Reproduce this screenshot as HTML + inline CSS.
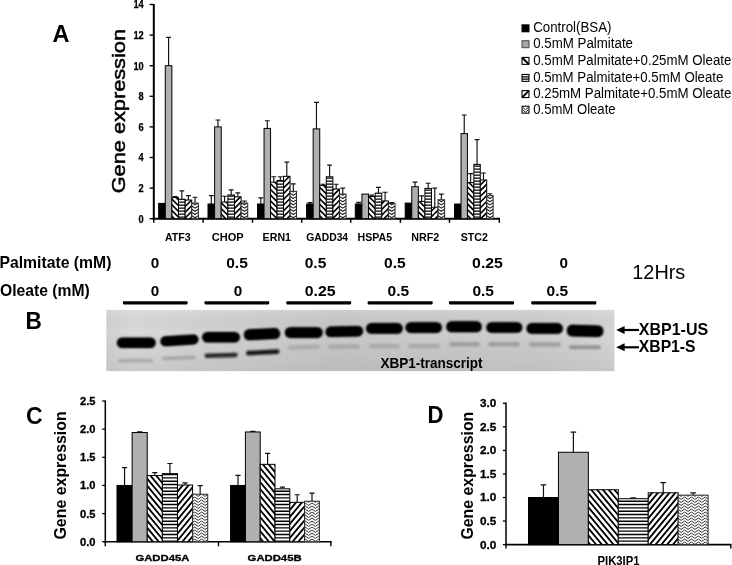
<!DOCTYPE html>
<html><head><meta charset="utf-8"><title>Figure</title>
<style>
html,body{margin:0;padding:0;background:#fff;}
body{width:732px;height:565px;overflow:hidden;font-family:"Liberation Sans",sans-serif;}
svg{display:block;filter:grayscale(1);}
text{font-family:"Liberation Sans",sans-serif;fill:#000;}
</style></head><body>
<svg width="732" height="565" viewBox="0 0 732 565">
<defs>
<!-- panel A patterns (small) -->
<pattern id="h1a" patternUnits="userSpaceOnUse" width="5.2" height="5.2" patternTransform="translate(1.2,0.6)"><rect width="5.2" height="5.2" fill="#fff"/><path d="M-1.3 -1.3L6.5 6.5M-1.3 3.9L1.3 6.5M3.9 -1.3L6.5 1.3" stroke="#000" stroke-width="1.5"/></pattern>
<pattern id="h2a" patternUnits="userSpaceOnUse" width="5.2" height="5.2" patternTransform="translate(0.4,0.6)"><rect width="5.2" height="5.2" fill="#fff"/><path d="M-1.3 6.5L6.5 -1.3M-1.3 1.3L1.3 -1.3M3.9 6.5L6.5 3.9" stroke="#000" stroke-width="1.5"/></pattern>
<pattern id="hza" patternUnits="userSpaceOnUse" width="4" height="2.6" patternTransform="translate(0,1.6)"><rect width="4" height="2.6" fill="#fff"/><rect width="4" height="1.35" fill="#000"/></pattern>
<!-- panel C/D patterns -->
<pattern id="h1c" patternUnits="userSpaceOnUse" width="5.8" height="7" patternTransform="translate(2.9,3.6)"><rect width="5.8" height="7" fill="#fff"/><path d="M-5.8 -7L11.6 14M-5.8 0L5.8 14M0 -7L11.6 7" stroke="#000" stroke-width="2.0"/></pattern>
<pattern id="h2c" patternUnits="userSpaceOnUse" width="5.8" height="7" patternTransform="translate(2.9,3.6)"><rect width="5.8" height="7" fill="#fff"/><path d="M-5.8 14L11.6 -7M-5.8 7L5.8 -7M0 14L11.6 0" stroke="#000" stroke-width="2.0"/></pattern>
<pattern id="hzc" patternUnits="userSpaceOnUse" width="4" height="3.33" patternTransform="translate(0,1.0)"><rect width="4" height="3.33" fill="#fff"/><rect width="4" height="1.4" fill="#000"/></pattern>
<filter id="blurA" x="-5%" y="-5%" width="110%" height="110%"><feGaussianBlur stdDeviation="0.35"/></filter>
<filter id="bandblur" x="-20%" y="-50%" width="140%" height="200%"><feGaussianBlur stdDeviation="1.3"/></filter>
<filter id="faintblur" x="-20%" y="-100%" width="140%" height="300%"><feGaussianBlur stdDeviation="1.1"/></filter>
<linearGradient id="gelbg" x1="0" x2="1" y1="0" y2="0">
<stop offset="0" stop-color="#d2d2d2"/><stop offset="0.05" stop-color="#dadada"/><stop offset="0.22" stop-color="#d2d2d2"/><stop offset="0.45" stop-color="#c9c9c9"/><stop offset="0.85" stop-color="#cecece"/><stop offset="1" stop-color="#d6d6d6"/>
</linearGradient>
<linearGradient id="gelv" x1="0" x2="0" y1="0" y2="1"><stop offset="0" stop-color="#fff" stop-opacity="0.12"/><stop offset="0.35" stop-color="#000" stop-opacity="0"/><stop offset="1" stop-color="#000" stop-opacity="0.07"/></linearGradient>
<clipPath id="gelclip"><rect x="106.3" y="309.9" width="508.1" height="61.1"/></clipPath>
</defs>
<rect width="732" height="565" fill="#fff"/>

<g id="panelA">
<text transform="translate(52.6,41.7) scale(0.967,1)" font-size="24.3" font-weight="bold">A</text>
<text transform="translate(124.6,193.3) rotate(-90)" font-size="18.5" textLength="164.3" lengthAdjust="spacingAndGlyphs" stroke="#000" stroke-width="0.5">Gene expression</text>
<path d="M153.8 4.0V218.7" stroke="#000" stroke-width="2.0" fill="none"/>
<path d="M152.8 218.7H500.0" stroke="#000" stroke-width="2.0" fill="none"/>
<path d="M149.6 218.70H153.8" stroke="#000" stroke-width="1.4"/>
<text x="138.55" y="222.60" font-size="10.6" font-weight="bold" text-anchor="start" textLength="5.15" lengthAdjust="spacingAndGlyphs" stroke="#000" stroke-width="0.25">0</text>
<path d="M149.6 188.10H153.8" stroke="#000" stroke-width="1.4"/>
<text x="138.55" y="192.00" font-size="10.6" font-weight="bold" text-anchor="start" textLength="5.15" lengthAdjust="spacingAndGlyphs" stroke="#000" stroke-width="0.25">2</text>
<path d="M149.6 157.50H153.8" stroke="#000" stroke-width="1.4"/>
<text x="138.55" y="161.40" font-size="10.6" font-weight="bold" text-anchor="start" textLength="5.15" lengthAdjust="spacingAndGlyphs" stroke="#000" stroke-width="0.25">4</text>
<path d="M149.6 126.90H153.8" stroke="#000" stroke-width="1.4"/>
<text x="138.55" y="130.80" font-size="10.6" font-weight="bold" text-anchor="start" textLength="5.15" lengthAdjust="spacingAndGlyphs" stroke="#000" stroke-width="0.25">6</text>
<path d="M149.6 96.30H153.8" stroke="#000" stroke-width="1.4"/>
<text x="138.55" y="100.20" font-size="10.6" font-weight="bold" text-anchor="start" textLength="5.15" lengthAdjust="spacingAndGlyphs" stroke="#000" stroke-width="0.25">8</text>
<path d="M149.6 65.70H153.8" stroke="#000" stroke-width="1.4"/>
<text x="133.40" y="69.60" font-size="10.6" font-weight="bold" text-anchor="start" textLength="10.30" lengthAdjust="spacingAndGlyphs" stroke="#000" stroke-width="0.25">10</text>
<path d="M149.6 35.10H153.8" stroke="#000" stroke-width="1.4"/>
<text x="133.40" y="39.00" font-size="10.6" font-weight="bold" text-anchor="start" textLength="10.30" lengthAdjust="spacingAndGlyphs" stroke="#000" stroke-width="0.25">12</text>
<path d="M149.6 4.50H153.8" stroke="#000" stroke-width="1.4"/>
<text x="133.40" y="8.40" font-size="10.6" font-weight="bold" text-anchor="start" textLength="10.30" lengthAdjust="spacingAndGlyphs" stroke="#000" stroke-width="0.25">14</text>
<path d="M153.80 218.7V222.8" stroke="#000" stroke-width="1.5"/>
<path d="M203.10 218.7V222.8" stroke="#000" stroke-width="1.5"/>
<path d="M252.50 218.7V222.8" stroke="#000" stroke-width="1.5"/>
<path d="M301.70 218.7V222.8" stroke="#000" stroke-width="1.5"/>
<path d="M350.70 218.7V222.8" stroke="#000" stroke-width="1.5"/>
<path d="M400.40 218.7V222.8" stroke="#000" stroke-width="1.5"/>
<path d="M449.50 218.7V222.8" stroke="#000" stroke-width="1.5"/>
<path d="M499.30 218.7V222.8" stroke="#000" stroke-width="1.5"/>
<path d="M168.58 65.70V37.39M166.18 37.39H170.98" stroke="#111" stroke-width="1.15" fill="none"/>
<path d="M175.20 197.59V196.51M172.80 196.51H177.60" stroke="#111" stroke-width="1.15" fill="none"/>
<path d="M181.82 199.27V190.85M179.42 190.85H184.22" stroke="#111" stroke-width="1.15" fill="none"/>
<path d="M188.44 200.03V195.60M186.04 195.60H190.84" stroke="#111" stroke-width="1.15" fill="none"/>
<path d="M195.06 203.09V197.28M192.66 197.28H197.46" stroke="#111" stroke-width="1.15" fill="none"/>
<rect x="158.65" y="203.40" width="6.62" height="15.30" fill="#000" stroke="#000" stroke-width="1.0"/>
<rect x="165.27" y="65.70" width="6.62" height="153.00" fill="#b0b0b0" stroke="#000" stroke-width="1.0"/>
<clipPath id="k1"><rect x="171.89" y="197.59" width="6.62" height="21.11"/></clipPath>
<rect x="171.89" y="197.59" width="6.62" height="21.11" fill="#fff"/>
<path d="M170.89 180.99L179.51 189.61M170.89 186.69L179.51 195.31M170.89 192.39L179.51 201.01M170.89 198.09L179.51 206.71M170.89 203.79L179.51 212.41M170.89 209.49L179.51 218.11M170.89 215.19L179.51 223.81" stroke="#000" stroke-width="1.6" fill="none" clip-path="url(#k1)"/>
<rect x="171.89" y="197.59" width="6.62" height="21.11" fill="none" stroke="#000" stroke-width="1.0"/>
<clipPath id="k2"><rect x="178.51" y="199.27" width="6.62" height="19.43"/></clipPath>
<rect x="178.51" y="199.27" width="6.62" height="19.43" fill="#fff"/>
<path d="M178.51 196.18H185.13M178.51 199.18H185.13M178.51 202.18H185.13M178.51 205.18H185.13M178.51 208.18H185.13M178.51 211.18H185.13M178.51 214.18H185.13M178.51 217.18H185.13M178.51 220.18H185.13" stroke="#000" stroke-width="1.35" fill="none" clip-path="url(#k2)"/>
<rect x="178.51" y="199.27" width="6.62" height="19.43" fill="none" stroke="#000" stroke-width="1.0"/>
<clipPath id="k3"><rect x="185.13" y="200.03" width="6.62" height="18.67"/></clipPath>
<rect x="185.13" y="200.03" width="6.62" height="18.67" fill="#fff"/>
<path d="M184.13 190.47L192.75 181.85M184.13 196.17L192.75 187.55M184.13 201.87L192.75 193.25M184.13 207.57L192.75 198.95M184.13 213.27L192.75 204.65M184.13 218.97L192.75 210.35M184.13 224.67L192.75 216.05" stroke="#000" stroke-width="1.6" fill="none" clip-path="url(#k3)"/>
<rect x="185.13" y="200.03" width="6.62" height="18.67" fill="none" stroke="#000" stroke-width="1.0"/>
<clipPath id="k4"><rect x="191.75" y="203.09" width="6.62" height="15.61"/></clipPath>
<rect x="191.75" y="203.09" width="6.62" height="15.61" fill="#fff"/>
<path d="M181.82 198.50L185.13 196.40L188.44 198.50L191.75 196.40L195.06 198.50L198.37 196.40L201.68 198.50L204.99 196.40M181.82 201.70L185.13 199.60L188.44 201.70L191.75 199.60L195.06 201.70L198.37 199.60L201.68 201.70L204.99 199.60M181.82 204.90L185.13 202.80L188.44 204.90L191.75 202.80L195.06 204.90L198.37 202.80L201.68 204.90L204.99 202.80M181.82 208.10L185.13 206.00L188.44 208.10L191.75 206.00L195.06 208.10L198.37 206.00L201.68 208.10L204.99 206.00M181.82 211.30L185.13 209.20L188.44 211.30L191.75 209.20L195.06 211.30L198.37 209.20L201.68 211.30L204.99 209.20M181.82 214.50L185.13 212.40L188.44 214.50L191.75 212.40L195.06 214.50L198.37 212.40L201.68 214.50L204.99 212.40M181.82 217.70L185.13 215.60L188.44 217.70L191.75 215.60L195.06 217.70L198.37 215.60L201.68 217.70L204.99 215.60" stroke="#1a1a1a" stroke-width="1.1" fill="none" stroke-linejoin="round" clip-path="url(#k4)"/>
<rect x="191.75" y="203.09" width="6.62" height="15.61" fill="none" stroke="#2a2a2a" stroke-width="1.0"/>
<path d="M211.31 204.01V195.60M208.91 195.60H213.71" stroke="#111" stroke-width="1.15" fill="none"/>
<path d="M217.93 126.90V120.01M215.53 120.01H220.33" stroke="#111" stroke-width="1.15" fill="none"/>
<path d="M224.55 202.02V196.21M222.15 196.21H226.95" stroke="#111" stroke-width="1.15" fill="none"/>
<path d="M231.17 194.98V189.94M228.77 189.94H233.57" stroke="#111" stroke-width="1.15" fill="none"/>
<path d="M237.79 196.82V192.84M235.39 192.84H240.19" stroke="#111" stroke-width="1.15" fill="none"/>
<path d="M244.41 203.09V200.95M242.01 200.95H246.81" stroke="#111" stroke-width="1.15" fill="none"/>
<rect x="208.00" y="204.01" width="6.62" height="14.69" fill="#000" stroke="#000" stroke-width="1.0"/>
<rect x="214.62" y="126.90" width="6.62" height="91.80" fill="#b0b0b0" stroke="#000" stroke-width="1.0"/>
<clipPath id="k5"><rect x="221.24" y="202.02" width="6.62" height="16.68"/></clipPath>
<rect x="221.24" y="202.02" width="6.62" height="16.68" fill="#fff"/>
<path d="M220.24 184.74L228.86 193.36M220.24 190.44L228.86 199.06M220.24 196.14L228.86 204.76M220.24 201.84L228.86 210.46M220.24 207.54L228.86 216.16M220.24 213.24L228.86 221.86M220.24 218.94L228.86 227.56" stroke="#000" stroke-width="1.6" fill="none" clip-path="url(#k5)"/>
<rect x="221.24" y="202.02" width="6.62" height="16.68" fill="none" stroke="#000" stroke-width="1.0"/>
<clipPath id="k6"><rect x="227.86" y="194.98" width="6.62" height="23.72"/></clipPath>
<rect x="227.86" y="194.98" width="6.62" height="23.72" fill="#fff"/>
<path d="M227.86 190.18H234.48M227.86 193.18H234.48M227.86 196.18H234.48M227.86 199.18H234.48M227.86 202.18H234.48M227.86 205.18H234.48M227.86 208.18H234.48M227.86 211.18H234.48M227.86 214.18H234.48M227.86 217.18H234.48M227.86 220.18H234.48" stroke="#000" stroke-width="1.35" fill="none" clip-path="url(#k6)"/>
<rect x="227.86" y="194.98" width="6.62" height="23.72" fill="none" stroke="#000" stroke-width="1.0"/>
<clipPath id="k7"><rect x="234.48" y="196.82" width="6.62" height="21.88"/></clipPath>
<rect x="234.48" y="196.82" width="6.62" height="21.88" fill="#fff"/>
<path d="M233.48 186.72L242.10 178.10M233.48 192.42L242.10 183.80M233.48 198.12L242.10 189.50M233.48 203.82L242.10 195.20M233.48 209.52L242.10 200.90M233.48 215.22L242.10 206.60M233.48 220.92L242.10 212.30M233.48 226.62L242.10 218.00" stroke="#000" stroke-width="1.6" fill="none" clip-path="url(#k7)"/>
<rect x="234.48" y="196.82" width="6.62" height="21.88" fill="none" stroke="#000" stroke-width="1.0"/>
<clipPath id="k8"><rect x="241.10" y="203.09" width="6.62" height="15.61"/></clipPath>
<rect x="241.10" y="203.09" width="6.62" height="15.61" fill="#fff"/>
<path d="M231.17 198.50L234.48 196.40L237.79 198.50L241.10 196.40L244.41 198.50L247.72 196.40L251.03 198.50L254.34 196.40M231.17 201.70L234.48 199.60L237.79 201.70L241.10 199.60L244.41 201.70L247.72 199.60L251.03 201.70L254.34 199.60M231.17 204.90L234.48 202.80L237.79 204.90L241.10 202.80L244.41 204.90L247.72 202.80L251.03 204.90L254.34 202.80M231.17 208.10L234.48 206.00L237.79 208.10L241.10 206.00L244.41 208.10L247.72 206.00L251.03 208.10L254.34 206.00M231.17 211.30L234.48 209.20L237.79 211.30L241.10 209.20L244.41 211.30L247.72 209.20L251.03 211.30L254.34 209.20M231.17 214.50L234.48 212.40L237.79 214.50L241.10 212.40L244.41 214.50L247.72 212.40L251.03 214.50L254.34 212.40M231.17 217.70L234.48 215.60L237.79 217.70L241.10 215.60L244.41 217.70L247.72 215.60L251.03 217.70L254.34 215.60" stroke="#1a1a1a" stroke-width="1.1" fill="none" stroke-linejoin="round" clip-path="url(#k8)"/>
<rect x="241.10" y="203.09" width="6.62" height="15.61" fill="none" stroke="#2a2a2a" stroke-width="1.0"/>
<path d="M260.80 204.01V197.89M258.40 197.89H263.20" stroke="#111" stroke-width="1.15" fill="none"/>
<path d="M267.30 128.43V120.78M264.90 120.78H269.70" stroke="#111" stroke-width="1.15" fill="none"/>
<path d="M273.80 182.13V176.78M271.40 176.78H276.20" stroke="#111" stroke-width="1.15" fill="none"/>
<path d="M280.30 180.45V176.78M277.90 176.78H282.70" stroke="#111" stroke-width="1.15" fill="none"/>
<path d="M286.80 176.32V162.09M284.40 162.09H289.20" stroke="#111" stroke-width="1.15" fill="none"/>
<path d="M293.30 191.31V183.82M290.90 183.82H295.70" stroke="#111" stroke-width="1.15" fill="none"/>
<rect x="257.55" y="204.01" width="6.50" height="14.69" fill="#000" stroke="#000" stroke-width="1.0"/>
<rect x="264.05" y="128.43" width="6.50" height="90.27" fill="#b0b0b0" stroke="#000" stroke-width="1.0"/>
<clipPath id="k9"><rect x="270.55" y="182.13" width="6.50" height="36.57"/></clipPath>
<rect x="270.55" y="182.13" width="6.50" height="36.57" fill="#fff"/>
<path d="M269.55 165.65L278.05 174.15M269.55 171.35L278.05 179.85M269.55 177.05L278.05 185.55M269.55 182.75L278.05 191.25M269.55 188.45L278.05 196.95M269.55 194.15L278.05 202.65M269.55 199.85L278.05 208.35M269.55 205.55L278.05 214.05M269.55 211.25L278.05 219.75M269.55 216.95L278.05 225.45" stroke="#000" stroke-width="1.6" fill="none" clip-path="url(#k9)"/>
<rect x="270.55" y="182.13" width="6.50" height="36.57" fill="none" stroke="#000" stroke-width="1.0"/>
<clipPath id="k10"><rect x="277.05" y="180.45" width="6.50" height="38.25"/></clipPath>
<rect x="277.05" y="180.45" width="6.50" height="38.25" fill="#fff"/>
<path d="M277.05 175.18H283.55M277.05 178.18H283.55M277.05 181.18H283.55M277.05 184.18H283.55M277.05 187.18H283.55M277.05 190.18H283.55M277.05 193.18H283.55M277.05 196.18H283.55M277.05 199.18H283.55M277.05 202.18H283.55M277.05 205.18H283.55M277.05 208.18H283.55M277.05 211.18H283.55M277.05 214.18H283.55M277.05 217.18H283.55M277.05 220.18H283.55" stroke="#000" stroke-width="1.35" fill="none" clip-path="url(#k10)"/>
<rect x="277.05" y="180.45" width="6.50" height="38.25" fill="none" stroke="#000" stroke-width="1.0"/>
<clipPath id="k11"><rect x="283.55" y="176.32" width="6.50" height="42.38"/></clipPath>
<rect x="283.55" y="176.32" width="6.50" height="42.38" fill="#fff"/>
<path d="M282.55 166.15L291.05 157.65M282.55 171.85L291.05 163.35M282.55 177.55L291.05 169.05M282.55 183.25L291.05 174.75M282.55 188.95L291.05 180.45M282.55 194.65L291.05 186.15M282.55 200.35L291.05 191.85M282.55 206.05L291.05 197.55M282.55 211.75L291.05 203.25M282.55 217.45L291.05 208.95M282.55 223.15L291.05 214.65" stroke="#000" stroke-width="1.6" fill="none" clip-path="url(#k11)"/>
<rect x="283.55" y="176.32" width="6.50" height="42.38" fill="none" stroke="#000" stroke-width="1.0"/>
<clipPath id="k12"><rect x="290.05" y="191.31" width="6.50" height="27.39"/></clipPath>
<rect x="290.05" y="191.31" width="6.50" height="27.39" fill="#fff"/>
<path d="M280.06 185.70L283.37 183.60L286.68 185.70L289.99 183.60L293.30 185.70L296.61 183.60L299.92 185.70L303.23 183.60M280.06 188.90L283.37 186.80L286.68 188.90L289.99 186.80L293.30 188.90L296.61 186.80L299.92 188.90L303.23 186.80M280.06 192.10L283.37 190.00L286.68 192.10L289.99 190.00L293.30 192.10L296.61 190.00L299.92 192.10L303.23 190.00M280.06 195.30L283.37 193.20L286.68 195.30L289.99 193.20L293.30 195.30L296.61 193.20L299.92 195.30L303.23 193.20M280.06 198.50L283.37 196.40L286.68 198.50L289.99 196.40L293.30 198.50L296.61 196.40L299.92 198.50L303.23 196.40M280.06 201.70L283.37 199.60L286.68 201.70L289.99 199.60L293.30 201.70L296.61 199.60L299.92 201.70L303.23 199.60M280.06 204.90L283.37 202.80L286.68 204.90L289.99 202.80L293.30 204.90L296.61 202.80L299.92 204.90L303.23 202.80M280.06 208.10L283.37 206.00L286.68 208.10L289.99 206.00L293.30 208.10L296.61 206.00L299.92 208.10L303.23 206.00M280.06 211.30L283.37 209.20L286.68 211.30L289.99 209.20L293.30 211.30L296.61 209.20L299.92 211.30L303.23 209.20M280.06 214.50L283.37 212.40L286.68 214.50L289.99 212.40L293.30 214.50L296.61 212.40L299.92 214.50L303.23 212.40M280.06 217.70L283.37 215.60L286.68 217.70L289.99 215.60L293.30 217.70L296.61 215.60L299.92 217.70L303.23 215.60" stroke="#1a1a1a" stroke-width="1.1" fill="none" stroke-linejoin="round" clip-path="url(#k12)"/>
<rect x="290.05" y="191.31" width="6.50" height="27.39" fill="none" stroke="#2a2a2a" stroke-width="1.0"/>
<path d="M309.89 204.01V202.63M307.49 202.63H312.29" stroke="#111" stroke-width="1.15" fill="none"/>
<path d="M316.46 128.89V102.42M314.06 102.42H318.86" stroke="#111" stroke-width="1.15" fill="none"/>
<path d="M323.03 185.35V184.27M320.63 184.27H325.43" stroke="#111" stroke-width="1.15" fill="none"/>
<path d="M329.60 176.78V165.15M327.20 165.15H332.00" stroke="#111" stroke-width="1.15" fill="none"/>
<path d="M336.17 189.02V184.27M333.77 184.27H338.56" stroke="#111" stroke-width="1.15" fill="none"/>
<path d="M342.74 194.07V188.10M340.34 188.10H345.14" stroke="#111" stroke-width="1.15" fill="none"/>
<rect x="306.60" y="204.01" width="6.57" height="14.69" fill="#000" stroke="#000" stroke-width="1.0"/>
<rect x="313.17" y="128.89" width="6.57" height="89.81" fill="#b0b0b0" stroke="#000" stroke-width="1.0"/>
<clipPath id="k13"><rect x="319.74" y="185.35" width="6.57" height="33.35"/></clipPath>
<rect x="319.74" y="185.35" width="6.57" height="33.35" fill="#fff"/>
<path d="M318.74 169.24L327.31 177.81M318.74 174.94L327.31 183.51M318.74 180.64L327.31 189.21M318.74 186.34L327.31 194.91M318.74 192.04L327.31 200.61M318.74 197.74L327.31 206.31M318.74 203.44L327.31 212.01M318.74 209.14L327.31 217.71M318.74 214.84L327.31 223.41" stroke="#000" stroke-width="1.6" fill="none" clip-path="url(#k13)"/>
<rect x="319.74" y="185.35" width="6.57" height="33.35" fill="none" stroke="#000" stroke-width="1.0"/>
<clipPath id="k14"><rect x="326.31" y="176.78" width="6.57" height="41.92"/></clipPath>
<rect x="326.31" y="176.78" width="6.57" height="41.92" fill="#fff"/>
<path d="M326.31 172.18H332.88M326.31 175.18H332.88M326.31 178.18H332.88M326.31 181.18H332.88M326.31 184.18H332.88M326.31 187.18H332.88M326.31 190.18H332.88M326.31 193.18H332.88M326.31 196.18H332.88M326.31 199.18H332.88M326.31 202.18H332.88M326.31 205.18H332.88M326.31 208.18H332.88M326.31 211.18H332.88M326.31 214.18H332.88M326.31 217.18H332.88M326.31 220.18H332.88" stroke="#000" stroke-width="1.35" fill="none" clip-path="url(#k14)"/>
<rect x="326.31" y="176.78" width="6.57" height="41.92" fill="none" stroke="#000" stroke-width="1.0"/>
<clipPath id="k15"><rect x="332.88" y="189.02" width="6.57" height="29.68"/></clipPath>
<rect x="332.88" y="189.02" width="6.57" height="29.68" fill="#fff"/>
<path d="M331.88 179.52L340.45 170.95M331.88 185.22L340.45 176.65M331.88 190.92L340.45 182.35M331.88 196.62L340.45 188.05M331.88 202.32L340.45 193.75M331.88 208.02L340.45 199.45M331.88 213.72L340.45 205.15M331.88 219.42L340.45 210.85M331.88 225.12L340.45 216.55" stroke="#000" stroke-width="1.6" fill="none" clip-path="url(#k15)"/>
<rect x="332.88" y="189.02" width="6.57" height="29.68" fill="none" stroke="#000" stroke-width="1.0"/>
<clipPath id="k16"><rect x="339.45" y="194.07" width="6.57" height="24.63"/></clipPath>
<rect x="339.45" y="194.07" width="6.57" height="24.63" fill="#fff"/>
<path d="M329.50 188.90L332.81 186.80L336.12 188.90L339.43 186.80L342.74 188.90L346.05 186.80L349.36 188.90L352.67 186.80M329.50 192.10L332.81 190.00L336.12 192.10L339.43 190.00L342.74 192.10L346.05 190.00L349.36 192.10L352.67 190.00M329.50 195.30L332.81 193.20L336.12 195.30L339.43 193.20L342.74 195.30L346.05 193.20L349.36 195.30L352.67 193.20M329.50 198.50L332.81 196.40L336.12 198.50L339.43 196.40L342.74 198.50L346.05 196.40L349.36 198.50L352.67 196.40M329.50 201.70L332.81 199.60L336.12 201.70L339.43 199.60L342.74 201.70L346.05 199.60L349.36 201.70L352.67 199.60M329.50 204.90L332.81 202.80L336.12 204.90L339.43 202.80L342.74 204.90L346.05 202.80L349.36 204.90L352.67 202.80M329.50 208.10L332.81 206.00L336.12 208.10L339.43 206.00L342.74 208.10L346.05 206.00L349.36 208.10L352.67 206.00M329.50 211.30L332.81 209.20L336.12 211.30L339.43 209.20L342.74 211.30L346.05 209.20L349.36 211.30L352.67 209.20M329.50 214.50L332.81 212.40L336.12 214.50L339.43 212.40L342.74 214.50L346.05 212.40L349.36 214.50L352.67 212.40M329.50 217.70L332.81 215.60L336.12 217.70L339.43 215.60L342.74 217.70L346.05 215.60L349.36 217.70L352.67 215.60" stroke="#1a1a1a" stroke-width="1.1" fill="none" stroke-linejoin="round" clip-path="url(#k16)"/>
<rect x="339.45" y="194.07" width="6.57" height="24.63" fill="none" stroke="#2a2a2a" stroke-width="1.0"/>
<path d="M358.61 204.01V202.33M356.21 202.33H361.01" stroke="#111" stroke-width="1.15" fill="none"/>
<path d="M371.85 196.51V195.14M369.45 195.14H374.25" stroke="#111" stroke-width="1.15" fill="none"/>
<path d="M378.47 193.15V187.33M376.07 187.33H380.87" stroke="#111" stroke-width="1.15" fill="none"/>
<path d="M385.09 200.95V192.23M382.69 192.23H387.49" stroke="#111" stroke-width="1.15" fill="none"/>
<path d="M391.71 203.40V202.63M389.31 202.63H394.11" stroke="#111" stroke-width="1.15" fill="none"/>
<rect x="355.30" y="204.01" width="6.62" height="14.69" fill="#000" stroke="#000" stroke-width="1.0"/>
<rect x="361.92" y="194.07" width="6.62" height="24.63" fill="#b0b0b0" stroke="#000" stroke-width="1.0"/>
<clipPath id="k17"><rect x="368.54" y="196.51" width="6.62" height="22.18"/></clipPath>
<rect x="368.54" y="196.51" width="6.62" height="22.18" fill="#fff"/>
<path d="M367.54 178.14L376.16 186.76M367.54 183.84L376.16 192.46M367.54 189.54L376.16 198.16M367.54 195.24L376.16 203.86M367.54 200.94L376.16 209.56M367.54 206.64L376.16 215.26M367.54 212.34L376.16 220.96M367.54 218.04L376.16 226.66" stroke="#000" stroke-width="1.6" fill="none" clip-path="url(#k17)"/>
<rect x="368.54" y="196.51" width="6.62" height="22.18" fill="none" stroke="#000" stroke-width="1.0"/>
<clipPath id="k18"><rect x="375.16" y="193.15" width="6.62" height="25.55"/></clipPath>
<rect x="375.16" y="193.15" width="6.62" height="25.55" fill="#fff"/>
<path d="M375.16 190.18H381.78M375.16 193.18H381.78M375.16 196.18H381.78M375.16 199.18H381.78M375.16 202.18H381.78M375.16 205.18H381.78M375.16 208.18H381.78M375.16 211.18H381.78M375.16 214.18H381.78M375.16 217.18H381.78M375.16 220.18H381.78" stroke="#000" stroke-width="1.35" fill="none" clip-path="url(#k18)"/>
<rect x="375.16" y="193.15" width="6.62" height="25.55" fill="none" stroke="#000" stroke-width="1.0"/>
<clipPath id="k19"><rect x="381.78" y="200.95" width="6.62" height="17.75"/></clipPath>
<rect x="381.78" y="200.95" width="6.62" height="17.75" fill="#fff"/>
<path d="M380.78 193.32L389.40 184.70M380.78 199.02L389.40 190.40M380.78 204.72L389.40 196.10M380.78 210.42L389.40 201.80M380.78 216.12L389.40 207.50M380.78 221.82L389.40 213.20M380.78 227.52L389.40 218.90" stroke="#000" stroke-width="1.6" fill="none" clip-path="url(#k19)"/>
<rect x="381.78" y="200.95" width="6.62" height="17.75" fill="none" stroke="#000" stroke-width="1.0"/>
<clipPath id="k20"><rect x="388.40" y="203.40" width="6.62" height="15.30"/></clipPath>
<rect x="388.40" y="203.40" width="6.62" height="15.30" fill="#fff"/>
<path d="M378.47 198.50L381.78 196.40L385.09 198.50L388.40 196.40L391.71 198.50L395.02 196.40L398.33 198.50L401.64 196.40M378.47 201.70L381.78 199.60L385.09 201.70L388.40 199.60L391.71 201.70L395.02 199.60L398.33 201.70L401.64 199.60M378.47 204.90L381.78 202.80L385.09 204.90L388.40 202.80L391.71 204.90L395.02 202.80L398.33 204.90L401.64 202.80M378.47 208.10L381.78 206.00L385.09 208.10L388.40 206.00L391.71 208.10L395.02 206.00L398.33 208.10L401.64 206.00M378.47 211.30L381.78 209.20L385.09 211.30L388.40 209.20L391.71 211.30L395.02 209.20L398.33 211.30L401.64 209.20M378.47 214.50L381.78 212.40L385.09 214.50L388.40 212.40L391.71 214.50L395.02 212.40L398.33 214.50L401.64 212.40M378.47 217.70L381.78 215.60L385.09 217.70L388.40 215.60L391.71 217.70L395.02 215.60L398.33 217.70L401.64 215.60" stroke="#1a1a1a" stroke-width="1.1" fill="none" stroke-linejoin="round" clip-path="url(#k20)"/>
<rect x="388.40" y="203.40" width="6.62" height="15.30" fill="none" stroke="#2a2a2a" stroke-width="1.0"/>
<path d="M415.06 186.72V182.13M412.66 182.13H417.45" stroke="#111" stroke-width="1.15" fill="none"/>
<path d="M421.62 201.41V195.90M419.23 195.90H424.02" stroke="#111" stroke-width="1.15" fill="none"/>
<path d="M428.19 188.41V183.20M425.80 183.20H430.59" stroke="#111" stroke-width="1.15" fill="none"/>
<path d="M434.77 207.22V188.10M432.37 188.10H437.17" stroke="#111" stroke-width="1.15" fill="none"/>
<path d="M441.34 199.73V194.07M438.94 194.07H443.74" stroke="#111" stroke-width="1.15" fill="none"/>
<rect x="405.20" y="203.09" width="6.57" height="15.61" fill="#000" stroke="#000" stroke-width="1.0"/>
<rect x="411.77" y="186.72" width="6.57" height="31.98" fill="#b0b0b0" stroke="#000" stroke-width="1.0"/>
<clipPath id="k21"><rect x="418.34" y="201.41" width="6.57" height="17.29"/></clipPath>
<rect x="418.34" y="201.41" width="6.57" height="17.29" fill="#fff"/>
<path d="M417.34 182.34L425.91 190.91M417.34 188.04L425.91 196.61M417.34 193.74L425.91 202.31M417.34 199.44L425.91 208.01M417.34 205.14L425.91 213.71M417.34 210.84L425.91 219.41M417.34 216.54L425.91 225.11" stroke="#000" stroke-width="1.6" fill="none" clip-path="url(#k21)"/>
<rect x="418.34" y="201.41" width="6.57" height="17.29" fill="none" stroke="#000" stroke-width="1.0"/>
<clipPath id="k22"><rect x="424.91" y="188.41" width="6.57" height="30.29"/></clipPath>
<rect x="424.91" y="188.41" width="6.57" height="30.29" fill="#fff"/>
<path d="M424.91 184.18H431.48M424.91 187.18H431.48M424.91 190.18H431.48M424.91 193.18H431.48M424.91 196.18H431.48M424.91 199.18H431.48M424.91 202.18H431.48M424.91 205.18H431.48M424.91 208.18H431.48M424.91 211.18H431.48M424.91 214.18H431.48M424.91 217.18H431.48M424.91 220.18H431.48" stroke="#000" stroke-width="1.35" fill="none" clip-path="url(#k22)"/>
<rect x="424.91" y="188.41" width="6.57" height="30.29" fill="none" stroke="#000" stroke-width="1.0"/>
<clipPath id="k23"><rect x="431.48" y="207.22" width="6.57" height="11.48"/></clipPath>
<rect x="431.48" y="207.22" width="6.57" height="11.48" fill="#fff"/>
<path d="M430.48 200.62L439.05 192.05M430.48 206.32L439.05 197.75M430.48 212.02L439.05 203.45M430.48 217.72L439.05 209.15M430.48 223.42L439.05 214.85" stroke="#000" stroke-width="1.6" fill="none" clip-path="url(#k23)"/>
<rect x="431.48" y="207.22" width="6.57" height="11.48" fill="none" stroke="#000" stroke-width="1.0"/>
<clipPath id="k24"><rect x="438.05" y="199.73" width="6.57" height="18.97"/></clipPath>
<rect x="438.05" y="199.73" width="6.57" height="18.97" fill="#fff"/>
<path d="M428.10 195.30L431.41 193.20L434.72 195.30L438.03 193.20L441.34 195.30L444.65 193.20L447.96 195.30L451.27 193.20M428.10 198.50L431.41 196.40L434.72 198.50L438.03 196.40L441.34 198.50L444.65 196.40L447.96 198.50L451.27 196.40M428.10 201.70L431.41 199.60L434.72 201.70L438.03 199.60L441.34 201.70L444.65 199.60L447.96 201.70L451.27 199.60M428.10 204.90L431.41 202.80L434.72 204.90L438.03 202.80L441.34 204.90L444.65 202.80L447.96 204.90L451.27 202.80M428.10 208.10L431.41 206.00L434.72 208.10L438.03 206.00L441.34 208.10L444.65 206.00L447.96 208.10L451.27 206.00M428.10 211.30L431.41 209.20L434.72 211.30L438.03 209.20L441.34 211.30L444.65 209.20L447.96 211.30L451.27 209.20M428.10 214.50L431.41 212.40L434.72 214.50L438.03 212.40L441.34 214.50L444.65 212.40L447.96 214.50L451.27 212.40M428.10 217.70L431.41 215.60L434.72 217.70L438.03 215.60L441.34 217.70L444.65 215.60L447.96 217.70L451.27 215.60" stroke="#1a1a1a" stroke-width="1.1" fill="none" stroke-linejoin="round" clip-path="url(#k24)"/>
<rect x="438.05" y="199.73" width="6.57" height="18.97" fill="none" stroke="#2a2a2a" stroke-width="1.0"/>
<path d="M464.23 133.63V114.97M461.83 114.97H466.63" stroke="#111" stroke-width="1.15" fill="none"/>
<path d="M470.65 182.59V173.56M468.25 173.56H473.05" stroke="#111" stroke-width="1.15" fill="none"/>
<path d="M477.07 164.38V139.60M474.67 139.60H479.47" stroke="#111" stroke-width="1.15" fill="none"/>
<path d="M483.49 179.99V172.95M481.09 172.95H485.89" stroke="#111" stroke-width="1.15" fill="none"/>
<path d="M489.91 195.60V193.76M487.51 193.76H492.31" stroke="#111" stroke-width="1.15" fill="none"/>
<rect x="454.60" y="204.01" width="6.42" height="14.69" fill="#000" stroke="#000" stroke-width="1.0"/>
<rect x="461.02" y="133.63" width="6.42" height="85.07" fill="#b0b0b0" stroke="#000" stroke-width="1.0"/>
<clipPath id="k25"><rect x="467.44" y="182.59" width="6.42" height="36.11"/></clipPath>
<rect x="467.44" y="182.59" width="6.42" height="36.11" fill="#fff"/>
<path d="M466.44 163.04L474.86 171.46M466.44 168.74L474.86 177.16M466.44 174.44L474.86 182.86M466.44 180.14L474.86 188.56M466.44 185.84L474.86 194.26M466.44 191.54L474.86 199.96M466.44 197.24L474.86 205.66M466.44 202.94L474.86 211.36M466.44 208.64L474.86 217.06M466.44 214.34L474.86 222.76" stroke="#000" stroke-width="1.6" fill="none" clip-path="url(#k25)"/>
<rect x="467.44" y="182.59" width="6.42" height="36.11" fill="none" stroke="#000" stroke-width="1.0"/>
<clipPath id="k26"><rect x="473.86" y="164.38" width="6.42" height="54.31"/></clipPath>
<rect x="473.86" y="164.38" width="6.42" height="54.31" fill="#fff"/>
<path d="M473.86 160.18H480.28M473.86 163.18H480.28M473.86 166.18H480.28M473.86 169.18H480.28M473.86 172.18H480.28M473.86 175.18H480.28M473.86 178.18H480.28M473.86 181.18H480.28M473.86 184.18H480.28M473.86 187.18H480.28M473.86 190.18H480.28M473.86 193.18H480.28M473.86 196.18H480.28M473.86 199.18H480.28M473.86 202.18H480.28M473.86 205.18H480.28M473.86 208.18H480.28M473.86 211.18H480.28M473.86 214.18H480.28M473.86 217.18H480.28M473.86 220.18H480.28" stroke="#000" stroke-width="1.35" fill="none" clip-path="url(#k26)"/>
<rect x="473.86" y="164.38" width="6.42" height="54.31" fill="none" stroke="#000" stroke-width="1.0"/>
<clipPath id="k27"><rect x="480.28" y="179.99" width="6.42" height="38.71"/></clipPath>
<rect x="480.28" y="179.99" width="6.42" height="38.71" fill="#fff"/>
<path d="M479.28 168.92L487.70 160.50M479.28 174.62L487.70 166.20M479.28 180.32L487.70 171.90M479.28 186.02L487.70 177.60M479.28 191.72L487.70 183.30M479.28 197.42L487.70 189.00M479.28 203.12L487.70 194.70M479.28 208.82L487.70 200.40M479.28 214.52L487.70 206.10M479.28 220.22L487.70 211.80M479.28 225.92L487.70 217.50" stroke="#000" stroke-width="1.6" fill="none" clip-path="url(#k27)"/>
<rect x="480.28" y="179.99" width="6.42" height="38.71" fill="none" stroke="#000" stroke-width="1.0"/>
<clipPath id="k28"><rect x="486.70" y="195.60" width="6.42" height="23.10"/></clipPath>
<rect x="486.70" y="195.60" width="6.42" height="23.10" fill="#fff"/>
<path d="M476.67 192.10L479.98 190.00L483.29 192.10L486.60 190.00L489.91 192.10L493.22 190.00L496.53 192.10L499.84 190.00M476.67 195.30L479.98 193.20L483.29 195.30L486.60 193.20L489.91 195.30L493.22 193.20L496.53 195.30L499.84 193.20M476.67 198.50L479.98 196.40L483.29 198.50L486.60 196.40L489.91 198.50L493.22 196.40L496.53 198.50L499.84 196.40M476.67 201.70L479.98 199.60L483.29 201.70L486.60 199.60L489.91 201.70L493.22 199.60L496.53 201.70L499.84 199.60M476.67 204.90L479.98 202.80L483.29 204.90L486.60 202.80L489.91 204.90L493.22 202.80L496.53 204.90L499.84 202.80M476.67 208.10L479.98 206.00L483.29 208.10L486.60 206.00L489.91 208.10L493.22 206.00L496.53 208.10L499.84 206.00M476.67 211.30L479.98 209.20L483.29 211.30L486.60 209.20L489.91 211.30L493.22 209.20L496.53 211.30L499.84 209.20M476.67 214.50L479.98 212.40L483.29 214.50L486.60 212.40L489.91 214.50L493.22 212.40L496.53 214.50L499.84 212.40M476.67 217.70L479.98 215.60L483.29 217.70L486.60 215.60L489.91 217.70L493.22 215.60L496.53 217.70L499.84 215.60" stroke="#1a1a1a" stroke-width="1.1" fill="none" stroke-linejoin="round" clip-path="url(#k28)"/>
<rect x="486.70" y="195.60" width="6.42" height="23.10" fill="none" stroke="#2a2a2a" stroke-width="1.0"/>
<text x="165.00" y="240.70" font-size="10.8" font-weight="bold" text-anchor="start" textLength="25.70" lengthAdjust="spacingAndGlyphs" >ATF3</text>
<text x="211.70" y="240.70" font-size="10.8" font-weight="bold" text-anchor="start" textLength="31.90" lengthAdjust="spacingAndGlyphs" >CHOP</text>
<text x="262.60" y="240.70" font-size="10.8" font-weight="bold" text-anchor="start" textLength="28.40" lengthAdjust="spacingAndGlyphs" >ERN1</text>
<text x="306.30" y="240.70" font-size="10.8" font-weight="bold" text-anchor="start" textLength="41.80" lengthAdjust="spacingAndGlyphs" >GADD34</text>
<text x="357.60" y="240.70" font-size="10.8" font-weight="bold" text-anchor="start" textLength="34.50" lengthAdjust="spacingAndGlyphs" >HSPA5</text>
<text x="411.30" y="240.70" font-size="10.8" font-weight="bold" text-anchor="start" textLength="28.00" lengthAdjust="spacingAndGlyphs" >NRF2</text>
<text x="460.70" y="240.70" font-size="10.8" font-weight="bold" text-anchor="start" textLength="27.10" lengthAdjust="spacingAndGlyphs" >STC2</text>
</g>
<g id="legend">
<text x="533.20" y="32.20" font-size="14.0"  text-anchor="start" textLength="78.30" lengthAdjust="spacingAndGlyphs" fill="#111">Control(BSA)</text>
<rect x="521.5" y="24.300000000000004" width="8" height="8" fill="#000"/>
<text x="533.20" y="48.10" font-size="14.0"  text-anchor="start" textLength="99.80" lengthAdjust="spacingAndGlyphs" fill="#111">0.5mM Palmitate</text>
<rect x="522.05" y="40.75" width="6.9" height="6.9" fill="#a9a9a9" stroke="#505050" stroke-width="1.1"/>
<text x="533.20" y="64.80" font-size="14.0"  text-anchor="start" textLength="198.20" lengthAdjust="spacingAndGlyphs" fill="#111">0.5mM Palmitate+0.25mM Oleate</text>
<rect x="522.05" y="57.449999999999996" width="6.9" height="6.9" fill="#fff" stroke="#000" stroke-width="1.1"/><path d="M522.3 57.699999999999996L528.7 64.1" stroke="#000" stroke-width="2.0"/>
<text x="533.20" y="81.80" font-size="14.0"  text-anchor="start" textLength="190.20" lengthAdjust="spacingAndGlyphs" fill="#111">0.5mM Palmitate+0.5mM Oleate</text>
<rect x="522.05" y="74.44999999999999" width="6.9" height="6.9" fill="#fff" stroke="#000" stroke-width="1.1"/><path d="M522.0 76.85H529.0M522.0 79.05H529.0" stroke="#000" stroke-width="1.15"/>
<text x="533.20" y="98.00" font-size="14.0"  text-anchor="start" textLength="198.20" lengthAdjust="spacingAndGlyphs" fill="#111">0.25mM Palmitate+0.5mM Oleate</text>
<rect x="522.05" y="90.64999999999999" width="6.9" height="6.9" fill="#fff" stroke="#000" stroke-width="1.1"/><path d="M522.3 97.3L528.7 90.89999999999999" stroke="#000" stroke-width="1.9"/>
<text x="533.20" y="113.60" font-size="14.0"  text-anchor="start" textLength="82.40" lengthAdjust="spacingAndGlyphs" fill="#111">0.5mM Oleate</text>
<rect x="522.05" y="106.24999999999999" width="6.9" height="6.9" fill="#fff" stroke="#000" stroke-width="1.1"/><path d="M522.9 107.6L525.5 109.6L528.1 107.6M522.9 110.1L525.5 112.1L528.1 110.1" stroke="#000" stroke-width="0.85" fill="none"/>
</g>
<g id="panelB">
<text x="-0.60" y="268.20" font-size="16.4" font-weight="bold" text-anchor="start" textLength="112.00" lengthAdjust="spacingAndGlyphs" >Palmitate (mM)</text>
<text x="0.00" y="296.00" font-size="16.4" font-weight="bold" text-anchor="start" textLength="89.80" lengthAdjust="spacingAndGlyphs" >Oleate (mM)</text>
<text transform="translate(25.5,328.9) scale(0.92,1)" font-size="24.6" font-weight="bold">B</text>
<text x="150.75" y="267.90" font-size="15.5" font-weight="bold" text-anchor="start" textLength="8.50" lengthAdjust="spacingAndGlyphs" >0</text>
<text x="226.20" y="267.90" font-size="15.5" font-weight="bold" text-anchor="start" textLength="21.60" lengthAdjust="spacingAndGlyphs" >0.5</text>
<text x="304.70" y="267.90" font-size="15.5" font-weight="bold" text-anchor="start" textLength="21.60" lengthAdjust="spacingAndGlyphs" >0.5</text>
<text x="384.00" y="267.90" font-size="15.5" font-weight="bold" text-anchor="start" textLength="21.60" lengthAdjust="spacingAndGlyphs" >0.5</text>
<text x="472.10" y="267.90" font-size="15.5" font-weight="bold" text-anchor="start" textLength="30.80" lengthAdjust="spacingAndGlyphs" >0.25</text>
<text x="559.55" y="267.90" font-size="15.5" font-weight="bold" text-anchor="start" textLength="8.50" lengthAdjust="spacingAndGlyphs" >0</text>
<text x="150.75" y="296.10" font-size="15.5" font-weight="bold" text-anchor="start" textLength="8.50" lengthAdjust="spacingAndGlyphs" >0</text>
<text x="233.75" y="296.10" font-size="15.5" font-weight="bold" text-anchor="start" textLength="8.50" lengthAdjust="spacingAndGlyphs" >0</text>
<text x="304.70" y="296.10" font-size="15.5" font-weight="bold" text-anchor="start" textLength="30.80" lengthAdjust="spacingAndGlyphs" >0.25</text>
<text x="387.60" y="296.10" font-size="15.5" font-weight="bold" text-anchor="start" textLength="21.60" lengthAdjust="spacingAndGlyphs" >0.5</text>
<text x="472.40" y="296.10" font-size="15.5" font-weight="bold" text-anchor="start" textLength="21.60" lengthAdjust="spacingAndGlyphs" >0.5</text>
<text x="546.60" y="296.10" font-size="15.5" font-weight="bold" text-anchor="start" textLength="21.60" lengthAdjust="spacingAndGlyphs" >0.5</text>
<rect x="122.9" y="301.2" width="64.7" height="3.2" rx="0.8" fill="#000"/>
<rect x="204.5" y="301.2" width="64.7" height="3.2" rx="0.8" fill="#000"/>
<rect x="286.3" y="301.2" width="64.9" height="3.2" rx="0.8" fill="#000"/>
<rect x="367.6" y="301.2" width="65.1" height="3.2" rx="0.8" fill="#000"/>
<rect x="448.9" y="301.2" width="65.1" height="3.2" rx="0.8" fill="#000"/>
<rect x="531.2" y="301.2" width="65.1" height="3.2" rx="0.8" fill="#000"/>
<text x="632.30" y="278.50" font-size="20.4"  text-anchor="start" textLength="53.00" lengthAdjust="spacingAndGlyphs" fill="#111">12Hrs</text>
<rect x="106.3" y="309.9" width="508.1" height="61.2" fill="url(#gelbg)"/>
<rect x="106.3" y="309.9" width="508.1" height="61.2" fill="url(#gelv)"/>
<g clip-path="url(#gelclip)">
<g filter="url(#bandblur)">
<rect x="116.8" y="337.6" width="39.0" height="10.4" rx="5.3" fill="#000" transform="rotate(0.0 136.3 342.8)"/>
<rect x="160.2" y="335.4" width="38.4" height="10.0" rx="5.3" fill="#000" transform="rotate(-3.5 179.4 340.4)"/>
<rect x="202.0" y="331.9" width="38.0" height="10.6" rx="5.3" fill="#000" transform="rotate(0.0 221.0 337.2)"/>
<rect x="243.8" y="328.7" width="36.4" height="11.0" rx="5.3" fill="#000" transform="rotate(-2.6 262.0 334.2)"/>
<rect x="284.8" y="327.3" width="38.0" height="10.6" rx="5.3" fill="#000" transform="rotate(0.0 303.8 332.6)"/>
<rect x="325.4" y="326.2" width="37.8" height="10.6" rx="5.3" fill="#000" transform="rotate(-1.3 344.3 331.5)"/>
<rect x="366.0" y="323.1" width="36.8" height="10.6" rx="5.3" fill="#000" transform="rotate(0.0 384.4 328.4)"/>
<rect x="405.4" y="322.3" width="36.6" height="10.6" rx="5.3" fill="#000" transform="rotate(0.0 423.7 327.6)"/>
<rect x="446.2" y="321.2" width="35.6" height="11.0" rx="5.3" fill="#000" transform="rotate(0.0 464.0 326.7)"/>
<rect x="486.2" y="322.2" width="36.2" height="10.6" rx="5.3" fill="#000" transform="rotate(0.0 504.3 327.5)"/>
<rect x="526.4" y="323.1" width="36.6" height="10.6" rx="5.3" fill="#000" transform="rotate(0.0 544.7 328.4)"/>
<rect x="566.8" y="325.1" width="36.6" height="11.6" rx="5.3" fill="#000" transform="rotate(1.3 585.1 330.9)"/>
</g>
<g filter="url(#bandblur)" opacity="0.9">
<rect x="118.5" y="338.9" width="35.6" height="7.8" rx="4" fill="#000" transform="rotate(0.0 136.3 342.8)"/>
<rect x="161.9" y="336.7" width="35.0" height="7.4" rx="4" fill="#000" transform="rotate(-3.5 179.4 340.4)"/>
<rect x="203.7" y="333.2" width="34.6" height="8.0" rx="4" fill="#000" transform="rotate(0.0 221.0 337.2)"/>
<rect x="245.5" y="330.0" width="33.0" height="8.4" rx="4" fill="#000" transform="rotate(-2.6 262.0 334.2)"/>
<rect x="286.5" y="328.6" width="34.6" height="8.0" rx="4" fill="#000" transform="rotate(0.0 303.8 332.6)"/>
<rect x="327.1" y="327.5" width="34.4" height="8.0" rx="4" fill="#000" transform="rotate(-1.3 344.3 331.5)"/>
<rect x="367.7" y="324.4" width="33.4" height="8.0" rx="4" fill="#000" transform="rotate(0.0 384.4 328.4)"/>
<rect x="407.1" y="323.6" width="33.2" height="8.0" rx="4" fill="#000" transform="rotate(0.0 423.7 327.6)"/>
<rect x="447.9" y="322.5" width="32.2" height="8.4" rx="4" fill="#000" transform="rotate(0.0 464.0 326.7)"/>
<rect x="487.9" y="323.5" width="32.8" height="8.0" rx="4" fill="#000" transform="rotate(0.0 504.3 327.5)"/>
<rect x="528.1" y="324.4" width="33.2" height="8.0" rx="4" fill="#000" transform="rotate(0.0 544.7 328.4)"/>
<rect x="568.5" y="326.4" width="33.2" height="9.0" rx="4" fill="#000" transform="rotate(1.3 585.1 330.9)"/>
</g>
<g filter="url(#faintblur)">
<rect x="118.0" y="358.7" width="35.0" height="3.8" rx="1.9" fill="#888" opacity="0.5" transform="rotate(0 135.5 360.6)"/>
<rect x="162.0" y="356.1" width="34.0" height="3.5" rx="1.8" fill="#777" opacity="0.45" transform="rotate(-2 179.0 357.8)"/>
<rect x="204.5" y="353.0" width="33.2" height="4.6" rx="2.3" fill="#1a1a1a" opacity="0.9" transform="rotate(-1.5 221.1 355.3)"/>
<rect x="246.0" y="350.1" width="33.5" height="4.6" rx="2.3" fill="#111" opacity="0.95" transform="rotate(-3 262.8 352.4)"/>
<rect x="288.0" y="344.9" width="32.0" height="4.6" rx="2.3" fill="#888" opacity="0.42" transform="rotate(-2 304.0 347.2)"/>
<rect x="328.0" y="344.3" width="32.0" height="4.6" rx="2.3" fill="#888" opacity="0.42" transform="rotate(-1 344.0 346.6)"/>
<rect x="369.0" y="343.9" width="31.0" height="4.6" rx="2.3" fill="#888" opacity="0.45" transform="rotate(0 384.5 346.2)"/>
<rect x="408.0" y="343.7" width="32.0" height="4.6" rx="2.3" fill="#888" opacity="0.45" transform="rotate(0 424.0 346.0)"/>
<rect x="449.0" y="342.1" width="31.0" height="4.4" rx="2.2" fill="#777" opacity="0.5" transform="rotate(0 464.5 344.3)"/>
<rect x="488.0" y="342.1" width="32.0" height="4.4" rx="2.2" fill="#777" opacity="0.5" transform="rotate(0 504.0 344.3)"/>
<rect x="529.0" y="342.3" width="32.0" height="4.4" rx="2.2" fill="#777" opacity="0.5" transform="rotate(0 545.0 344.5)"/>
<rect x="569.0" y="345.3" width="32.0" height="4.0" rx="2.0" fill="#666" opacity="0.55" transform="rotate(0 585.0 347.3)"/>
</g>
</g>
<text x="380.40" y="367.50" font-size="13.8" font-weight="bold" text-anchor="start" textLength="102.20" lengthAdjust="spacingAndGlyphs" fill="#1a1a1a">XBP1-transcript</text>
<path d="M621 330.0H639" stroke="#000" stroke-width="2.2"/><path d="M616.2 330.0L624.6 326.0V334.0Z" fill="#000"/>
<path d="M621 347.3H639" stroke="#000" stroke-width="2.2"/><path d="M616.2 347.3L624.6 343.3V351.3Z" fill="#000"/>
<text x="638.80" y="335.30" font-size="16.2" font-weight="bold" text-anchor="start" textLength="69.40" lengthAdjust="spacingAndGlyphs" >XBP1-US</text>
<text x="638.80" y="352.20" font-size="16.2" font-weight="bold" text-anchor="start" textLength="56.80" lengthAdjust="spacingAndGlyphs" >XBP1-S</text>
</g>
<g id="panelC">
<text transform="translate(26.0,423.6) scale(0.93,1)" font-size="24.8" font-weight="bold">C</text>
<text transform="translate(65.9,539.5) rotate(-90)" font-size="17.2" font-weight="bold" textLength="128.2" lengthAdjust="spacingAndGlyphs">Gene expression</text>
<path d="M105.3 400.5V542.5" stroke="#000" stroke-width="1.5" fill="none"/>
<path d="M104.55 541.75H331.8" stroke="#000" stroke-width="1.6" fill="none"/>
<path d="M102.2 541.75H105.3" stroke="#000" stroke-width="1.3"/>
<text x="80.00" y="545.70" font-size="10.8" font-weight="bold" text-anchor="start" textLength="15.50" lengthAdjust="spacingAndGlyphs" stroke="#000" stroke-width="0.3">0.0</text>
<path d="M102.2 513.60H105.3" stroke="#000" stroke-width="1.3"/>
<text x="80.00" y="517.55" font-size="10.8" font-weight="bold" text-anchor="start" textLength="15.50" lengthAdjust="spacingAndGlyphs" stroke="#000" stroke-width="0.3">0.5</text>
<path d="M102.2 485.45H105.3" stroke="#000" stroke-width="1.3"/>
<text x="80.00" y="489.40" font-size="10.8" font-weight="bold" text-anchor="start" textLength="15.50" lengthAdjust="spacingAndGlyphs" stroke="#000" stroke-width="0.3">1.0</text>
<path d="M102.2 457.30H105.3" stroke="#000" stroke-width="1.3"/>
<text x="80.00" y="461.25" font-size="10.8" font-weight="bold" text-anchor="start" textLength="15.50" lengthAdjust="spacingAndGlyphs" stroke="#000" stroke-width="0.3">1.5</text>
<path d="M102.2 429.15H105.3" stroke="#000" stroke-width="1.3"/>
<text x="80.00" y="433.10" font-size="10.8" font-weight="bold" text-anchor="start" textLength="15.50" lengthAdjust="spacingAndGlyphs" stroke="#000" stroke-width="0.3">2.0</text>
<path d="M102.2 401.00H105.3" stroke="#000" stroke-width="1.3"/>
<text x="80.00" y="404.95" font-size="10.8" font-weight="bold" text-anchor="start" textLength="15.50" lengthAdjust="spacingAndGlyphs" stroke="#000" stroke-width="0.3">2.5</text>
<path d="M105.3 541.75V546.3" stroke="#000" stroke-width="1.4"/>
<path d="M218.5 541.75V546.3" stroke="#000" stroke-width="1.4"/>
<path d="M330.9 541.75V546.3" stroke="#000" stroke-width="1.4"/>
<path d="M124.56 485.45V467.60M121.96 467.60H127.16" stroke="#111" stroke-width="1.2" fill="none"/>
<path d="M139.68 432.53V431.85M137.08 431.85H142.28" stroke="#111" stroke-width="1.2" fill="none"/>
<path d="M154.80 475.54V472.67M152.20 472.67H157.40" stroke="#111" stroke-width="1.2" fill="none"/>
<path d="M169.92 473.63V463.49M167.32 463.49H172.52" stroke="#111" stroke-width="1.2" fill="none"/>
<path d="M185.04 485.00V482.80M182.44 482.80H187.64" stroke="#111" stroke-width="1.2" fill="none"/>
<path d="M200.16 494.23V485.62M197.56 485.62H202.76" stroke="#111" stroke-width="1.2" fill="none"/>
<rect x="117.00" y="485.45" width="15.12" height="56.30" fill="#000" stroke="#000" stroke-width="1.0"/>
<rect x="132.12" y="432.53" width="15.12" height="109.22" fill="#b0b0b0" stroke="#000" stroke-width="1.0"/>
<clipPath id="k29"><rect x="147.24" y="475.54" width="15.12" height="66.21"/></clipPath>
<rect x="147.24" y="475.54" width="15.12" height="66.21" fill="#fff"/>
<path d="M146.24 442.60L163.36 463.26M146.24 449.60L163.36 470.26M146.24 456.60L163.36 477.26M146.24 463.60L163.36 484.26M146.24 470.60L163.36 491.26M146.24 477.60L163.36 498.26M146.24 484.60L163.36 505.26M146.24 491.60L163.36 512.26M146.24 498.60L163.36 519.26M146.24 505.60L163.36 526.26M146.24 512.60L163.36 533.26M146.24 519.60L163.36 540.26M146.24 526.60L163.36 547.26M146.24 533.60L163.36 554.26M146.24 540.60L163.36 561.26" stroke="#000" stroke-width="1.85" fill="none" clip-path="url(#k29)"/>
<rect x="147.24" y="475.54" width="15.12" height="66.21" fill="none" stroke="#000" stroke-width="1.0"/>
<clipPath id="k30"><rect x="162.36" y="473.63" width="15.12" height="68.12"/></clipPath>
<rect x="162.36" y="473.63" width="15.12" height="68.12" fill="#fff"/>
<path d="M162.36 467.90H177.48M162.36 471.23H177.48M162.36 474.56H177.48M162.36 477.89H177.48M162.36 481.22H177.48M162.36 484.55H177.48M162.36 487.88H177.48M162.36 491.21H177.48M162.36 494.54H177.48M162.36 497.87H177.48M162.36 501.20H177.48M162.36 504.53H177.48M162.36 507.86H177.48M162.36 511.19H177.48M162.36 514.52H177.48M162.36 517.85H177.48M162.36 521.18H177.48M162.36 524.51H177.48M162.36 527.84H177.48M162.36 531.17H177.48M162.36 534.50H177.48M162.36 537.83H177.48M162.36 541.16H177.48" stroke="#000" stroke-width="1.4" fill="none" clip-path="url(#k30)"/>
<rect x="162.36" y="473.63" width="15.12" height="68.12" fill="none" stroke="#000" stroke-width="1.0"/>
<clipPath id="k31"><rect x="177.48" y="485.00" width="15.12" height="56.75"/></clipPath>
<rect x="177.48" y="485.00" width="15.12" height="56.75" fill="#fff"/>
<path d="M176.48 471.80L193.60 451.14M176.48 478.80L193.60 458.14M176.48 485.80L193.60 465.14M176.48 492.80L193.60 472.14M176.48 499.80L193.60 479.14M176.48 506.80L193.60 486.14M176.48 513.80L193.60 493.14M176.48 520.80L193.60 500.14M176.48 527.80L193.60 507.14M176.48 534.80L193.60 514.14M176.48 541.80L193.60 521.14M176.48 548.80L193.60 528.14M176.48 555.80L193.60 535.14M176.48 562.80L193.60 542.14" stroke="#000" stroke-width="1.85" fill="none" clip-path="url(#k31)"/>
<rect x="177.48" y="485.00" width="15.12" height="56.75" fill="none" stroke="#000" stroke-width="1.0"/>
<clipPath id="k32"><rect x="192.60" y="494.23" width="15.12" height="47.52"/></clipPath>
<rect x="192.60" y="494.23" width="15.12" height="47.52" fill="#fff"/>
<path d="M180.90 488.00L184.35 490.40L187.80 488.00L191.25 490.40L194.70 488.00L198.15 490.40L201.60 488.00L205.05 490.40L208.50 488.00L211.95 490.40M180.90 491.00L184.35 493.40L187.80 491.00L191.25 493.40L194.70 491.00L198.15 493.40L201.60 491.00L205.05 493.40L208.50 491.00L211.95 493.40M180.90 494.00L184.35 496.40L187.80 494.00L191.25 496.40L194.70 494.00L198.15 496.40L201.60 494.00L205.05 496.40L208.50 494.00L211.95 496.40M180.90 497.00L184.35 499.40L187.80 497.00L191.25 499.40L194.70 497.00L198.15 499.40L201.60 497.00L205.05 499.40L208.50 497.00L211.95 499.40M180.90 500.00L184.35 502.40L187.80 500.00L191.25 502.40L194.70 500.00L198.15 502.40L201.60 500.00L205.05 502.40L208.50 500.00L211.95 502.40M180.90 503.00L184.35 505.40L187.80 503.00L191.25 505.40L194.70 503.00L198.15 505.40L201.60 503.00L205.05 505.40L208.50 503.00L211.95 505.40M180.90 506.00L184.35 508.40L187.80 506.00L191.25 508.40L194.70 506.00L198.15 508.40L201.60 506.00L205.05 508.40L208.50 506.00L211.95 508.40M180.90 509.00L184.35 511.40L187.80 509.00L191.25 511.40L194.70 509.00L198.15 511.40L201.60 509.00L205.05 511.40L208.50 509.00L211.95 511.40M180.90 512.00L184.35 514.40L187.80 512.00L191.25 514.40L194.70 512.00L198.15 514.40L201.60 512.00L205.05 514.40L208.50 512.00L211.95 514.40M180.90 515.00L184.35 517.40L187.80 515.00L191.25 517.40L194.70 515.00L198.15 517.40L201.60 515.00L205.05 517.40L208.50 515.00L211.95 517.40M180.90 518.00L184.35 520.40L187.80 518.00L191.25 520.40L194.70 518.00L198.15 520.40L201.60 518.00L205.05 520.40L208.50 518.00L211.95 520.40M180.90 521.00L184.35 523.40L187.80 521.00L191.25 523.40L194.70 521.00L198.15 523.40L201.60 521.00L205.05 523.40L208.50 521.00L211.95 523.40M180.90 524.00L184.35 526.40L187.80 524.00L191.25 526.40L194.70 524.00L198.15 526.40L201.60 524.00L205.05 526.40L208.50 524.00L211.95 526.40M180.90 527.00L184.35 529.40L187.80 527.00L191.25 529.40L194.70 527.00L198.15 529.40L201.60 527.00L205.05 529.40L208.50 527.00L211.95 529.40M180.90 530.00L184.35 532.40L187.80 530.00L191.25 532.40L194.70 530.00L198.15 532.40L201.60 530.00L205.05 532.40L208.50 530.00L211.95 532.40M180.90 533.00L184.35 535.40L187.80 533.00L191.25 535.40L194.70 533.00L198.15 535.40L201.60 533.00L205.05 535.40L208.50 533.00L211.95 535.40M180.90 536.00L184.35 538.40L187.80 536.00L191.25 538.40L194.70 536.00L198.15 538.40L201.60 536.00L205.05 538.40L208.50 536.00L211.95 538.40M180.90 539.00L184.35 541.40L187.80 539.00L191.25 541.40L194.70 539.00L198.15 541.40L201.60 539.00L205.05 541.40L208.50 539.00L211.95 541.40" stroke="#1a1a1a" stroke-width="0.9" fill="none" stroke-linejoin="round" clip-path="url(#k32)"/>
<rect x="192.60" y="494.23" width="15.12" height="47.52" fill="none" stroke="#2a2a2a" stroke-width="1.0"/>
<path d="M238.00 485.45V475.32M235.40 475.32H240.60" stroke="#111" stroke-width="1.2" fill="none"/>
<path d="M252.80 431.97V431.40M250.20 431.40H255.40" stroke="#111" stroke-width="1.2" fill="none"/>
<path d="M267.60 464.34V453.36M265.00 453.36H270.20" stroke="#111" stroke-width="1.2" fill="none"/>
<path d="M282.40 488.83V487.14M279.80 487.14H285.00" stroke="#111" stroke-width="1.2" fill="none"/>
<path d="M297.20 502.34V494.74M294.60 494.74H299.80" stroke="#111" stroke-width="1.2" fill="none"/>
<path d="M312.00 501.21V493.05M309.40 493.05H314.60" stroke="#111" stroke-width="1.2" fill="none"/>
<rect x="230.60" y="485.45" width="14.80" height="56.30" fill="#000" stroke="#000" stroke-width="1.0"/>
<rect x="245.40" y="431.97" width="14.80" height="109.78" fill="#b0b0b0" stroke="#000" stroke-width="1.0"/>
<clipPath id="k33"><rect x="260.20" y="464.34" width="14.80" height="77.41"/></clipPath>
<rect x="260.20" y="464.34" width="14.80" height="77.41" fill="#fff"/>
<path d="M259.20 431.93L276.00 452.20M259.20 438.93L276.00 459.20M259.20 445.93L276.00 466.20M259.20 452.93L276.00 473.20M259.20 459.93L276.00 480.20M259.20 466.93L276.00 487.20M259.20 473.93L276.00 494.20M259.20 480.93L276.00 501.20M259.20 487.93L276.00 508.20M259.20 494.93L276.00 515.20M259.20 501.93L276.00 522.20M259.20 508.93L276.00 529.20M259.20 515.93L276.00 536.20M259.20 522.93L276.00 543.20M259.20 529.93L276.00 550.20M259.20 536.93L276.00 557.20" stroke="#000" stroke-width="1.85" fill="none" clip-path="url(#k33)"/>
<rect x="260.20" y="464.34" width="14.80" height="77.41" fill="none" stroke="#000" stroke-width="1.0"/>
<clipPath id="k34"><rect x="275.00" y="488.83" width="14.80" height="52.92"/></clipPath>
<rect x="275.00" y="488.83" width="14.80" height="52.92" fill="#fff"/>
<path d="M275.00 484.55H289.80M275.00 487.88H289.80M275.00 491.21H289.80M275.00 494.54H289.80M275.00 497.87H289.80M275.00 501.20H289.80M275.00 504.53H289.80M275.00 507.86H289.80M275.00 511.19H289.80M275.00 514.52H289.80M275.00 517.85H289.80M275.00 521.18H289.80M275.00 524.51H289.80M275.00 527.84H289.80M275.00 531.17H289.80M275.00 534.50H289.80M275.00 537.83H289.80M275.00 541.16H289.80" stroke="#000" stroke-width="1.4" fill="none" clip-path="url(#k34)"/>
<rect x="275.00" y="488.83" width="14.80" height="52.92" fill="none" stroke="#000" stroke-width="1.0"/>
<clipPath id="k35"><rect x="289.80" y="502.34" width="14.80" height="39.41"/></clipPath>
<rect x="289.80" y="502.34" width="14.80" height="39.41" fill="#fff"/>
<path d="M288.80 490.24L305.60 469.97M288.80 497.24L305.60 476.97M288.80 504.24L305.60 483.97M288.80 511.24L305.60 490.97M288.80 518.24L305.60 497.97M288.80 525.24L305.60 504.97M288.80 532.24L305.60 511.97M288.80 539.24L305.60 518.97M288.80 546.24L305.60 525.97M288.80 553.24L305.60 532.97M288.80 560.24L305.60 539.97" stroke="#000" stroke-width="1.85" fill="none" clip-path="url(#k35)"/>
<rect x="289.80" y="502.34" width="14.80" height="39.41" fill="none" stroke="#000" stroke-width="1.0"/>
<clipPath id="k36"><rect x="304.60" y="501.21" width="14.80" height="40.54"/></clipPath>
<rect x="304.60" y="501.21" width="14.80" height="40.54" fill="#fff"/>
<path d="M291.30 494.00L294.75 496.40L298.20 494.00L301.65 496.40L305.10 494.00L308.55 496.40L312.00 494.00L315.45 496.40L318.90 494.00L322.35 496.40L325.80 494.00L329.25 496.40M291.30 497.00L294.75 499.40L298.20 497.00L301.65 499.40L305.10 497.00L308.55 499.40L312.00 497.00L315.45 499.40L318.90 497.00L322.35 499.40L325.80 497.00L329.25 499.40M291.30 500.00L294.75 502.40L298.20 500.00L301.65 502.40L305.10 500.00L308.55 502.40L312.00 500.00L315.45 502.40L318.90 500.00L322.35 502.40L325.80 500.00L329.25 502.40M291.30 503.00L294.75 505.40L298.20 503.00L301.65 505.40L305.10 503.00L308.55 505.40L312.00 503.00L315.45 505.40L318.90 503.00L322.35 505.40L325.80 503.00L329.25 505.40M291.30 506.00L294.75 508.40L298.20 506.00L301.65 508.40L305.10 506.00L308.55 508.40L312.00 506.00L315.45 508.40L318.90 506.00L322.35 508.40L325.80 506.00L329.25 508.40M291.30 509.00L294.75 511.40L298.20 509.00L301.65 511.40L305.10 509.00L308.55 511.40L312.00 509.00L315.45 511.40L318.90 509.00L322.35 511.40L325.80 509.00L329.25 511.40M291.30 512.00L294.75 514.40L298.20 512.00L301.65 514.40L305.10 512.00L308.55 514.40L312.00 512.00L315.45 514.40L318.90 512.00L322.35 514.40L325.80 512.00L329.25 514.40M291.30 515.00L294.75 517.40L298.20 515.00L301.65 517.40L305.10 515.00L308.55 517.40L312.00 515.00L315.45 517.40L318.90 515.00L322.35 517.40L325.80 515.00L329.25 517.40M291.30 518.00L294.75 520.40L298.20 518.00L301.65 520.40L305.10 518.00L308.55 520.40L312.00 518.00L315.45 520.40L318.90 518.00L322.35 520.40L325.80 518.00L329.25 520.40M291.30 521.00L294.75 523.40L298.20 521.00L301.65 523.40L305.10 521.00L308.55 523.40L312.00 521.00L315.45 523.40L318.90 521.00L322.35 523.40L325.80 521.00L329.25 523.40M291.30 524.00L294.75 526.40L298.20 524.00L301.65 526.40L305.10 524.00L308.55 526.40L312.00 524.00L315.45 526.40L318.90 524.00L322.35 526.40L325.80 524.00L329.25 526.40M291.30 527.00L294.75 529.40L298.20 527.00L301.65 529.40L305.10 527.00L308.55 529.40L312.00 527.00L315.45 529.40L318.90 527.00L322.35 529.40L325.80 527.00L329.25 529.40M291.30 530.00L294.75 532.40L298.20 530.00L301.65 532.40L305.10 530.00L308.55 532.40L312.00 530.00L315.45 532.40L318.90 530.00L322.35 532.40L325.80 530.00L329.25 532.40M291.30 533.00L294.75 535.40L298.20 533.00L301.65 535.40L305.10 533.00L308.55 535.40L312.00 533.00L315.45 535.40L318.90 533.00L322.35 535.40L325.80 533.00L329.25 535.40M291.30 536.00L294.75 538.40L298.20 536.00L301.65 538.40L305.10 536.00L308.55 538.40L312.00 536.00L315.45 538.40L318.90 536.00L322.35 538.40L325.80 536.00L329.25 538.40M291.30 539.00L294.75 541.40L298.20 539.00L301.65 541.40L305.10 539.00L308.55 541.40L312.00 539.00L315.45 541.40L318.90 539.00L322.35 541.40L325.80 539.00L329.25 541.40" stroke="#1a1a1a" stroke-width="0.9" fill="none" stroke-linejoin="round" clip-path="url(#k36)"/>
<rect x="304.60" y="501.21" width="14.80" height="40.54" fill="none" stroke="#2a2a2a" stroke-width="1.0"/>
<text x="135.40" y="561.30" font-size="9.2" font-weight="bold" text-anchor="start" textLength="54.00" lengthAdjust="spacingAndGlyphs" stroke="#000" stroke-width="0.3">GADD45A</text>
<text x="247.60" y="561.30" font-size="9.2" font-weight="bold" text-anchor="start" textLength="54.00" lengthAdjust="spacingAndGlyphs" stroke="#000" stroke-width="0.3">GADD45B</text>
</g>
<g id="panelD">
<text transform="translate(427.5,422.8) scale(0.935,1)" font-size="23.7" font-weight="bold">D</text>
<text transform="translate(472.7,539.6) rotate(-90)" font-size="17.4" font-weight="bold" textLength="127.9" lengthAdjust="spacingAndGlyphs">Gene expression</text>
<path d="M506.0 402.4V545.35" stroke="#000" stroke-width="1.5" fill="none"/>
<path d="M505.25 544.6H731.4" stroke="#000" stroke-width="1.6" fill="none"/>
<path d="M502.9 544.60H506.0" stroke="#000" stroke-width="1.3"/>
<text x="480.00" y="548.55" font-size="10.8" font-weight="bold" text-anchor="start" textLength="16.30" lengthAdjust="spacingAndGlyphs" stroke="#000" stroke-width="0.3">0.0</text>
<path d="M502.9 521.05H506.0" stroke="#000" stroke-width="1.3"/>
<text x="480.00" y="525.00" font-size="10.8" font-weight="bold" text-anchor="start" textLength="16.30" lengthAdjust="spacingAndGlyphs" stroke="#000" stroke-width="0.3">0.5</text>
<path d="M502.9 497.50H506.0" stroke="#000" stroke-width="1.3"/>
<text x="480.00" y="501.45" font-size="10.8" font-weight="bold" text-anchor="start" textLength="16.30" lengthAdjust="spacingAndGlyphs" stroke="#000" stroke-width="0.3">1.0</text>
<path d="M502.9 473.95H506.0" stroke="#000" stroke-width="1.3"/>
<text x="480.00" y="477.90" font-size="10.8" font-weight="bold" text-anchor="start" textLength="16.30" lengthAdjust="spacingAndGlyphs" stroke="#000" stroke-width="0.3">1.5</text>
<path d="M502.9 450.40H506.0" stroke="#000" stroke-width="1.3"/>
<text x="480.00" y="454.35" font-size="10.8" font-weight="bold" text-anchor="start" textLength="16.30" lengthAdjust="spacingAndGlyphs" stroke="#000" stroke-width="0.3">2.0</text>
<path d="M502.9 426.85H506.0" stroke="#000" stroke-width="1.3"/>
<text x="480.00" y="430.80" font-size="10.8" font-weight="bold" text-anchor="start" textLength="16.30" lengthAdjust="spacingAndGlyphs" stroke="#000" stroke-width="0.3">2.5</text>
<path d="M502.9 403.30H506.0" stroke="#000" stroke-width="1.3"/>
<text x="480.00" y="407.25" font-size="10.8" font-weight="bold" text-anchor="start" textLength="16.30" lengthAdjust="spacingAndGlyphs" stroke="#000" stroke-width="0.3">3.0</text>
<path d="M506.0 544.6V548.6" stroke="#000" stroke-width="1.4"/>
<path d="M730.8 544.6V548.6" stroke="#000" stroke-width="1.4"/>
<path d="M543.47 497.50V484.78M540.67 484.78H546.26" stroke="#111" stroke-width="1.2" fill="none"/>
<path d="M573.39 452.28V432.03M570.60 432.03H576.19" stroke="#111" stroke-width="1.2" fill="none"/>
<path d="M633.25 498.72V497.97M630.46 497.97H636.05" stroke="#111" stroke-width="1.2" fill="none"/>
<path d="M663.19 492.79V482.57M660.39 482.57H665.99" stroke="#111" stroke-width="1.2" fill="none"/>
<path d="M693.12 495.15V492.79M690.32 492.79H695.91" stroke="#111" stroke-width="1.2" fill="none"/>
<rect x="528.50" y="497.50" width="29.93" height="47.10" fill="#000" stroke="#000" stroke-width="1.0"/>
<rect x="558.43" y="452.28" width="29.93" height="92.32" fill="#b0b0b0" stroke="#000" stroke-width="1.0"/>
<clipPath id="k37"><rect x="588.36" y="489.73" width="29.93" height="54.87"/></clipPath>
<rect x="588.36" y="489.73" width="29.93" height="54.87" fill="#fff"/>
<path d="M587.36 442.98L619.29 481.52M587.36 449.98L619.29 488.52M587.36 456.98L619.29 495.52M587.36 463.98L619.29 502.52M587.36 470.98L619.29 509.52M587.36 477.98L619.29 516.52M587.36 484.98L619.29 523.52M587.36 491.98L619.29 530.52M587.36 498.98L619.29 537.52M587.36 505.98L619.29 544.52M587.36 512.98L619.29 551.52M587.36 519.98L619.29 558.52M587.36 526.98L619.29 565.52M587.36 533.98L619.29 572.52M587.36 540.98L619.29 579.52" stroke="#000" stroke-width="1.85" fill="none" clip-path="url(#k37)"/>
<rect x="588.36" y="489.73" width="29.93" height="54.87" fill="none" stroke="#000" stroke-width="1.0"/>
<clipPath id="k38"><rect x="618.29" y="498.72" width="29.93" height="45.88"/></clipPath>
<rect x="618.29" y="498.72" width="29.93" height="45.88" fill="#fff"/>
<path d="M618.29 494.54H648.22M618.29 497.87H648.22M618.29 501.20H648.22M618.29 504.53H648.22M618.29 507.86H648.22M618.29 511.19H648.22M618.29 514.52H648.22M618.29 517.85H648.22M618.29 521.18H648.22M618.29 524.51H648.22M618.29 527.84H648.22M618.29 531.17H648.22M618.29 534.50H648.22M618.29 537.83H648.22M618.29 541.16H648.22M618.29 544.49H648.22" stroke="#000" stroke-width="1.4" fill="none" clip-path="url(#k38)"/>
<rect x="618.29" y="498.72" width="29.93" height="45.88" fill="none" stroke="#000" stroke-width="1.0"/>
<clipPath id="k39"><rect x="648.22" y="492.79" width="29.93" height="51.81"/></clipPath>
<rect x="648.22" y="492.79" width="29.93" height="51.81" fill="#fff"/>
<path d="M647.22 484.67L679.15 446.13M647.22 491.67L679.15 453.13M647.22 498.67L679.15 460.13M647.22 505.67L679.15 467.13M647.22 512.67L679.15 474.13M647.22 519.67L679.15 481.13M647.22 526.67L679.15 488.13M647.22 533.67L679.15 495.13M647.22 540.67L679.15 502.13M647.22 547.67L679.15 509.13M647.22 554.67L679.15 516.13M647.22 561.67L679.15 523.13M647.22 568.67L679.15 530.13M647.22 575.67L679.15 537.13M647.22 582.67L679.15 544.13" stroke="#000" stroke-width="1.85" fill="none" clip-path="url(#k39)"/>
<rect x="648.22" y="492.79" width="29.93" height="51.81" fill="none" stroke="#000" stroke-width="1.0"/>
<clipPath id="k40"><rect x="678.15" y="495.15" width="29.93" height="49.46"/></clipPath>
<rect x="678.15" y="495.15" width="29.93" height="49.46" fill="#fff"/>
<path d="M670.80 488.00L674.25 490.40L677.70 488.00L681.15 490.40L684.60 488.00L688.05 490.40L691.50 488.00L694.95 490.40L698.40 488.00L701.85 490.40L705.30 488.00L708.75 490.40L712.20 488.00L715.65 490.40M670.80 491.00L674.25 493.40L677.70 491.00L681.15 493.40L684.60 491.00L688.05 493.40L691.50 491.00L694.95 493.40L698.40 491.00L701.85 493.40L705.30 491.00L708.75 493.40L712.20 491.00L715.65 493.40M670.80 494.00L674.25 496.40L677.70 494.00L681.15 496.40L684.60 494.00L688.05 496.40L691.50 494.00L694.95 496.40L698.40 494.00L701.85 496.40L705.30 494.00L708.75 496.40L712.20 494.00L715.65 496.40M670.80 497.00L674.25 499.40L677.70 497.00L681.15 499.40L684.60 497.00L688.05 499.40L691.50 497.00L694.95 499.40L698.40 497.00L701.85 499.40L705.30 497.00L708.75 499.40L712.20 497.00L715.65 499.40M670.80 500.00L674.25 502.40L677.70 500.00L681.15 502.40L684.60 500.00L688.05 502.40L691.50 500.00L694.95 502.40L698.40 500.00L701.85 502.40L705.30 500.00L708.75 502.40L712.20 500.00L715.65 502.40M670.80 503.00L674.25 505.40L677.70 503.00L681.15 505.40L684.60 503.00L688.05 505.40L691.50 503.00L694.95 505.40L698.40 503.00L701.85 505.40L705.30 503.00L708.75 505.40L712.20 503.00L715.65 505.40M670.80 506.00L674.25 508.40L677.70 506.00L681.15 508.40L684.60 506.00L688.05 508.40L691.50 506.00L694.95 508.40L698.40 506.00L701.85 508.40L705.30 506.00L708.75 508.40L712.20 506.00L715.65 508.40M670.80 509.00L674.25 511.40L677.70 509.00L681.15 511.40L684.60 509.00L688.05 511.40L691.50 509.00L694.95 511.40L698.40 509.00L701.85 511.40L705.30 509.00L708.75 511.40L712.20 509.00L715.65 511.40M670.80 512.00L674.25 514.40L677.70 512.00L681.15 514.40L684.60 512.00L688.05 514.40L691.50 512.00L694.95 514.40L698.40 512.00L701.85 514.40L705.30 512.00L708.75 514.40L712.20 512.00L715.65 514.40M670.80 515.00L674.25 517.40L677.70 515.00L681.15 517.40L684.60 515.00L688.05 517.40L691.50 515.00L694.95 517.40L698.40 515.00L701.85 517.40L705.30 515.00L708.75 517.40L712.20 515.00L715.65 517.40M670.80 518.00L674.25 520.40L677.70 518.00L681.15 520.40L684.60 518.00L688.05 520.40L691.50 518.00L694.95 520.40L698.40 518.00L701.85 520.40L705.30 518.00L708.75 520.40L712.20 518.00L715.65 520.40M670.80 521.00L674.25 523.40L677.70 521.00L681.15 523.40L684.60 521.00L688.05 523.40L691.50 521.00L694.95 523.40L698.40 521.00L701.85 523.40L705.30 521.00L708.75 523.40L712.20 521.00L715.65 523.40M670.80 524.00L674.25 526.40L677.70 524.00L681.15 526.40L684.60 524.00L688.05 526.40L691.50 524.00L694.95 526.40L698.40 524.00L701.85 526.40L705.30 524.00L708.75 526.40L712.20 524.00L715.65 526.40M670.80 527.00L674.25 529.40L677.70 527.00L681.15 529.40L684.60 527.00L688.05 529.40L691.50 527.00L694.95 529.40L698.40 527.00L701.85 529.40L705.30 527.00L708.75 529.40L712.20 527.00L715.65 529.40M670.80 530.00L674.25 532.40L677.70 530.00L681.15 532.40L684.60 530.00L688.05 532.40L691.50 530.00L694.95 532.40L698.40 530.00L701.85 532.40L705.30 530.00L708.75 532.40L712.20 530.00L715.65 532.40M670.80 533.00L674.25 535.40L677.70 533.00L681.15 535.40L684.60 533.00L688.05 535.40L691.50 533.00L694.95 535.40L698.40 533.00L701.85 535.40L705.30 533.00L708.75 535.40L712.20 533.00L715.65 535.40M670.80 536.00L674.25 538.40L677.70 536.00L681.15 538.40L684.60 536.00L688.05 538.40L691.50 536.00L694.95 538.40L698.40 536.00L701.85 538.40L705.30 536.00L708.75 538.40L712.20 536.00L715.65 538.40M670.80 539.00L674.25 541.40L677.70 539.00L681.15 541.40L684.60 539.00L688.05 541.40L691.50 539.00L694.95 541.40L698.40 539.00L701.85 541.40L705.30 539.00L708.75 541.40L712.20 539.00L715.65 541.40M670.80 542.00L674.25 544.40L677.70 542.00L681.15 544.40L684.60 542.00L688.05 544.40L691.50 542.00L694.95 544.40L698.40 542.00L701.85 544.40L705.30 542.00L708.75 544.40L712.20 542.00L715.65 544.40" stroke="#1a1a1a" stroke-width="0.9" fill="none" stroke-linejoin="round" clip-path="url(#k40)"/>
<rect x="678.15" y="495.15" width="29.93" height="49.46" fill="none" stroke="#2a2a2a" stroke-width="1.0"/>
<text x="597.50" y="565.30" font-size="12" font-weight="bold" text-anchor="start" textLength="42.10" lengthAdjust="spacingAndGlyphs" >PIK3IP1</text>
</g>
</svg>
</body></html>
